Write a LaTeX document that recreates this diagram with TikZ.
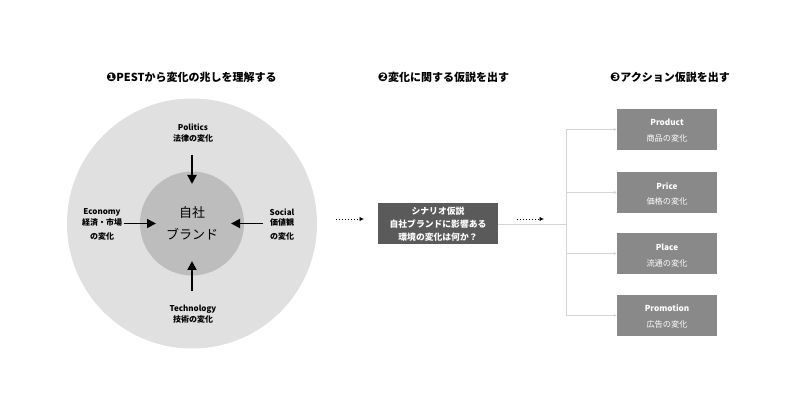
\documentclass[tikz,border=0pt]{standalone}
\usepackage{fontspec}
\setmainfont{Noto Sans CJK JP}
\newfontfamily\dv{DejaVu Sans}
\usetikzlibrary{arrows.meta}
\definecolor{outerc}{HTML}{E0E0E0}
\definecolor{innerc}{HTML}{BDBDBD}
\definecolor{darkbox}{HTML}{5A5A5A}
\definecolor{midbox}{HTML}{898989}
\definecolor{linec}{HTML}{D4D4D4}
\tikzset{
  title/.style={font=\bfseries\fontsize{11}{13}\selectfont, inner sep=0pt},
  lab/.style={font=\bfseries\fontsize{8}{9.5}\selectfont, inner sep=0pt},
  boxtxt/.style={font=\bfseries\fontsize{8.8}{10}\selectfont, text=white, inner sep=0pt},
  rtxt/.style={font=\fontsize{8.2}{9.5}\selectfont, text=white, inner sep=0pt},
  rtxtb/.style={font=\bfseries\fontsize{8.2}{9.5}\selectfont, text=white, inner sep=0pt},
  pestarrow/.style={line width=1.8pt, -{Triangle[length=9pt,width=9pt]}},
  dotarrow/.style={line width=0.8pt, dash pattern=on 1pt off 2pt, -{Latex[length=4.5pt,width=4.5pt]}},
  branch/.style={draw=linec, line width=0.8pt},
  rbox/.style={fill=midbox, minimum width=100pt, minimum height=41pt, inner sep=0pt}
}
\begin{document}
\begin{tikzpicture}[x=1pt,y=-1pt]
\fill[white] (0,0) rectangle (800,419);
\useasboundingbox (0,0) rectangle (800,419);

% titles
\node[title] (t1) at (191.5,77) {{\dv\fontsize{12}{13}\selectfont ❶}PESTから変化の兆しを理解する};
\node[title] (t2) at (443.5,77) {{\dv\fontsize{12}{13}\selectfont ❷}変化に関する仮説を出す};
\node[title] (t3) at (670,77) {{\dv\fontsize{12}{13}\selectfont ❸}アクション仮説を出す};

% circles
\node[circle, fill=outerc, minimum size=250pt, inner sep=0pt] (outer) at (192,223.5) {};
\node[circle, fill=innerc, minimum size=104pt, inner sep=0pt] (inner) at (192,223.5) {};
\node[inner sep=0pt, font=\fontsize{13}{15}\selectfont] (brand1) at (192,213) {自社};
\node[inner sep=0pt, font=\fontsize{13}{15}\selectfont] (brand2) at (192,234) {ブランド};

% PEST labels
\node[lab] (pol1) at (193,127) {Politics};
\node[lab] (pol2) at (193,138.5) {法律の変化};
\node[lab] (eco1) at (102,212) {Economy};
\node[lab] (eco2) at (102,222.5) {経済・市場};
\node[lab] (eco3) at (102,236) {の変化};
\node[lab] (soc1) at (282,212) {Social};
\node[lab] (soc2) at (282,222.5) {価値観};
\node[lab] (soc3) at (282,236) {の変化};
\node[lab] (tec1) at (193,309) {Technology};
\node[lab] (tec2) at (193,319) {技術の変化};

% PEST arrows
\coordinate (pS) at (192,155); \coordinate (pE) at (192,184);
\coordinate (eS) at (124,223.5); \coordinate (eE) at (156,223.5);
\coordinate (sS) at (263,223.5); \coordinate (sE) at (231,223.5);
\coordinate (tS) at (192,291); \coordinate (tE) at (192,261);
\draw[pestarrow] (pS) -- (pE);
\draw[pestarrow] (eS) -- (eE);
\draw[pestarrow] (sS) -- (sE);
\draw[pestarrow] (tS) -- (tE);

% middle
\coordinate (d1S) at (336,219); \coordinate (d1E) at (364,219);
\draw[dotarrow] (d1S) -- (d1E);
\node[fill=darkbox, minimum width=120pt, minimum height=41pt, inner sep=0pt] (hyp) at (438,223.5) {};
\node[boxtxt] (h1) at (438,211.5) {シナリオ仮説};
\node[boxtxt] (h2) at (438,224.3) {自社ブランドに影響ある};
\node[boxtxt] (h3) at (438,237) {環境の変化は何か？};

% right boxes
\node[rbox] (b1) at (667,129.5) {};
\node[rbox] (b2) at (667,192.5) {};
\node[rbox] (b3) at (667,253.5) {};
\node[rbox] (b4) at (667,315.5) {};
\node[rtxtb] (b1a) at (667,122) {Product};
\node[rtxt] (b1b) at (667,138.5) {商品の変化};
\node[rtxtb] (b2a) at (667,186) {Price};
\node[rtxt] (b2b) at (667,201.5) {価格の変化};
\node[rtxtb] (b3a) at (667,247) {Place};
\node[rtxt] (b3b) at (667,263) {流通の変化};
\node[rtxtb] (b4a) at (667,308.5) {Promotion};
\node[rtxt] (b4b) at (667,324) {広告の変化};

% connectors
\coordinate (jn) at (566,224);
\coordinate (v1) at (566,129.5);
\coordinate (v4) at (566,315.5);
\draw[branch] (hyp.east |- jn) -- (jn);
\draw[branch] (v1) -- (v4);
\foreach \b in {b1,b2,b3,b4}{
  \draw[branch, -{Latex[length=3pt,width=3pt]}] (jn |- \b.west) -- (\b.west);
}
\coordinate (d2S) at (517,219); \coordinate (d2E) at (544,219);
\draw[dotarrow] (d2S) -- (d2E);
\end{tikzpicture}
\end{document}
